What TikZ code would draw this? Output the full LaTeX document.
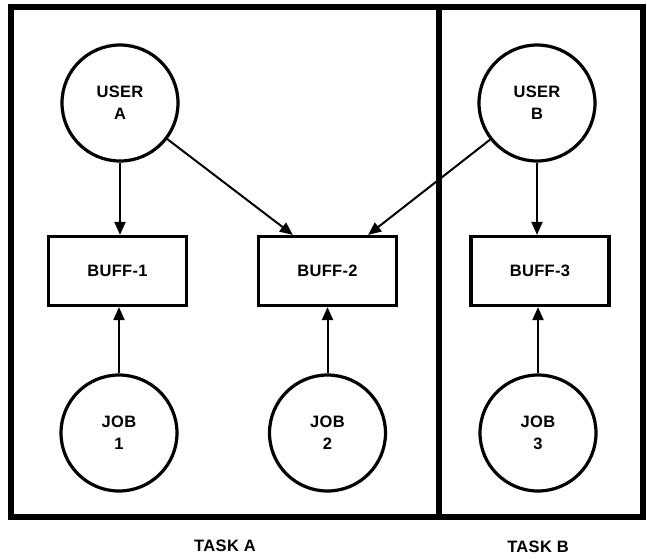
\documentclass[tikz,border=0pt]{standalone}
\usepackage{fontspec}
\setmainfont{Liberation Sans}[LetterSpace=2]
\usetikzlibrary{arrows.meta}
\tikzset{
  usr/.style={circle, draw, line width=3.2pt, minimum size=116pt, inner sep=0pt, align=center,
    font=\bfseries\fontsize{16.5}{22}\selectfont},
  buf/.style={rectangle, draw, line width=3.2pt, minimum width=138pt, minimum height=69pt, inner sep=0pt,
    font=\bfseries\fontsize{16.5}{18}\selectfont},
  arr/.style={-{Triangle[length=13pt,width=11pt]}, line width=2pt},
  frame/.style={line width=6pt},
  lbl/.style={font=\bfseries\fontsize{16.5}{18}\selectfont}
}
\begin{document}
\begin{tikzpicture}[x=1pt,y=-1pt]
\useasboundingbox (0,0) rectangle (647,558);
\draw[frame] (11,7) rectangle (643,517);
\draw[frame] (439,7) -- (439,517);

\node[usr] (ua) at (120,103) {USER\\A};
\node[usr] (ub) at (537,103) {USER\\B};
\node[buf] (b1) at (117.5,271) {BUFF-1};
\node[buf] (b2) at (327.5,271) {BUFF-2};
\node[buf] (b3) at (540,271) {BUFF-3};
\node[usr] (j1) at (119,433) {JOB\\1};
\node[usr] (j2) at (327.5,433) {JOB\\2};
\node[usr] (j3) at (538,433) {JOB\\3};

\coordinate (b2a) at ([xshift=36pt]b2.north west);
\coordinate (b2b) at ([xshift=-30pt]b2.north east);

\draw[arr] (ua.south) -- (ua.south |- b1.north);
\draw[arr] (ub.south) -- (ub.south |- b3.north);
\draw[arr] (ua) -- (b2a);
\draw[arr] (ub) -- (b2b);
\draw[arr] (j1.north) -- (j1.north |- b1.south);
\draw[arr] (j2.north) -- (j2.north |- b2.south);
\draw[arr] (j3.north) -- (j3.north |- b3.south);

\node[lbl] (ta) at (225,546) {TASK A};
\node[lbl] (tb) at (538,547) {TASK B};
\end{tikzpicture}
\end{document}
